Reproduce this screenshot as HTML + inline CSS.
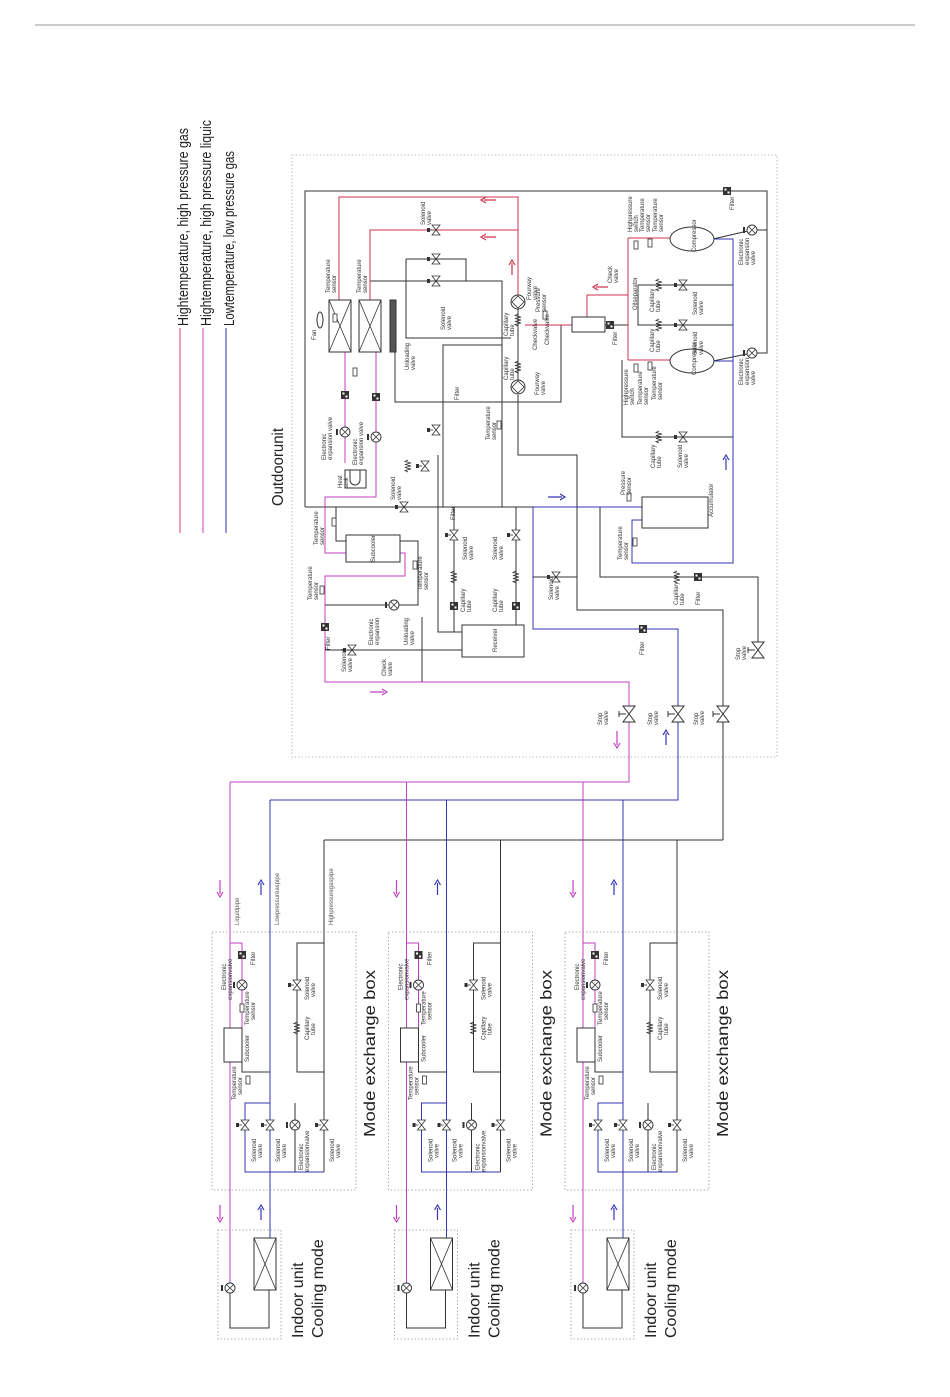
<!DOCTYPE html>
<html><head><meta charset="utf-8"><style>
html,body{margin:0;padding:0;background:#fff;}
svg{display:block;font-family:"Liberation Sans",sans-serif;}
</style></head><body>
<svg width="950" height="1397" viewBox="0 0 950 1397" xmlns="http://www.w3.org/2000/svg">
<defs>
<g id="sv"><path d="M-4,-5 L4,-5 L-4,5 L4,5 Z" fill="#fff" stroke="#333" stroke-width="0.8"/><line x1="-7" y1="0" x2="-3" y2="0" stroke="#333" stroke-width="0.8"/><rect x="-9" y="-2" width="3" height="4" fill="#333"/></g>
<g id="ev"><circle r="5" fill="#fff" stroke="#333" stroke-width="0.9"/><path d="M-3.5,-3.5 L3.5,3.5 M-3.5,3.5 L3.5,-3.5" stroke="#333" stroke-width="0.8"/><rect x="-9" y="-3" width="2" height="6" fill="#333"/></g>
<g id="fl"><rect x="-4" y="-4" width="8" height="8" fill="#333"/><rect x="-2.5" y="-2.5" width="2" height="2" fill="#fff"/><rect x="0.5" y="0.5" width="2" height="2" fill="#fff"/></g>
<g id="cap"><path d="M0,-6 l-3,1.5 l6,1.5 l-6,1.5 l6,1.5 l-6,1.5 l6,1.5 l-6,1.5 l3,1.5" fill="none" stroke="#333" stroke-width="0.8"/></g>
<g id="ts"><rect x="-2" y="-4" width="4" height="8" fill="#fff" stroke="#333" stroke-width="0.8"/></g>
<g id="stop"><path d="M-6,-8 L6,-8 L-6,8 L6,8 Z" fill="#fff" stroke="#333" stroke-width="1"/><line x1="-10" y1="0" x2="-3" y2="0" stroke="#333"/><line x1="-10" y1="-3" x2="-10" y2="3" stroke="#333"/></g>
<g id="fw"><circle r="7" fill="#fff" stroke="#333" stroke-width="1"/><path d="M0,-6 L6,0 L0,6 L-6,0 Z" fill="none" stroke="#333" stroke-width="0.8"/></g>
<g id="hx"><rect x="0" y="0" width="22" height="52" fill="#fff" stroke="#333" stroke-width="1"/><path d="M0,0 L22,52 M22,0 L0,52" stroke="#333" stroke-width="0.8"/></g>
</defs>

<line x1="35" y1="25" x2="915" y2="25" stroke="#999" stroke-width="1"/>

<!-- legend -->
<g font-size="15" fill="#222">
<text transform="translate(188,326) rotate(-90)" textLength="198" lengthAdjust="spacingAndGlyphs">Hightemperature, high pressure gas</text>
<text transform="translate(211,326) rotate(-90)" textLength="206" lengthAdjust="spacingAndGlyphs">Hightemperature, high pressure liquic</text>
<text transform="translate(234,326) rotate(-90)" textLength="175" lengthAdjust="spacingAndGlyphs">Lowtemperature, low pressure gas</text>
<text transform="translate(283,506) rotate(-90)" font-size="16" textLength="78" lengthAdjust="spacingAndGlyphs">Outdoorunit</text>
</g>
<line x1="180" y1="328" x2="180" y2="533" stroke="#e04060" stroke-width="1"/>
<line x1="203" y1="328" x2="203" y2="533" stroke="#c040c0" stroke-width="1"/>
<line x1="226" y1="328" x2="226" y2="533" stroke="#3030b0" stroke-width="1"/>

<!-- outdoor box -->
<rect x="292" y="155" width="485" height="602" fill="none" stroke="#aaa" stroke-width="0.8" stroke-dasharray="1.5,2"/>

<g fill="none" stroke="#333" stroke-width="1">
<path d="M305,507 L305,191 L767,191 L767,353 L752,353"/>
<path d="M767,230 L752,230"/>
<path d="M752,230 L713,239 M752,353 L713,361"/>
<path d="M370,281 L502,281 L502,507"/>
<path d="M406,259 L466,259 L466,281 M406,259 L406,338 L511,338"/>
<path d="M395,352 L395,402 L561,402 L561,325"/>
<path d="M443,507 L443,345 L502,345"/>
<path d="M518,395 L518,455 L577,455 L577,610 L723,610 L723,840"/>
<path d="M518,309 L518,380"/>
<path d="M605,325 L628,325"/>
<path d="M638,285 L733,285 M638,285 L638,325 L733,325"/>
<path d="M622,360 L622,437 L733,437"/>
<path d="M305,507 L533,507"/>
<path d="M600,507 L600,577 L758,577 L758,650"/>
<path d="M533,577 L577,577"/>
<path d="M336,507 L336,541 L418,541 L418,605 L325,605"/>
<path d="M325,650 L462,650"/>
<path d="M422,617 L422,682"/>
<path d="M438,455 L438,632 L462,632"/>
<path d="M454,507 L454,632"/>
<path d="M516,507 L516,625"/>
<rect x="345" y="470" width="21" height="18" fill="#fff"/>
<path d="M350,470 L350,480 A5,5 0 0 0 360,480 L360,470"/>
</g>
<!-- red -->
<g fill="none" stroke="#d03050" stroke-width="1">
<path d="M339,300 L339,197 L518,197 L518,295"/>
<path d="M370,300 L370,230 L518,230"/>
<path d="M525,325 L572,325"/>
<path d="M587,317 L587,295 L628,295"/>
<path d="M628,238 L628,360 M628,238 L670,238 M628,360 L670,360"/>
</g>
<!-- magenta -->
<g fill="none" stroke="#c040c0" stroke-width="1">
<path d="M345,352 L345,463 M376,352 L376,497 L325,497 L325,553 L405,553 L405,576 L325,576 L325,682 L629,682 L629,782 L230,782"/>
</g>
<!-- blue -->
<g fill="none" stroke="#3535b5" stroke-width="1">
<path d="M533,507 L642,507"/>
<path d="M533,507 L533,629 L678,629 L678,800 L270,800"/>
<path d="M713,239 L733,239 L733,563 L632,563 L632,520 L642,520 M713,361 L733,361"/>
</g>
<path d="M723,840 L324,840" stroke="#333" fill="none"/>

<!-- components outdoor -->
<use href="#hx" x="329" y="300"/><use href="#hx" x="359" y="300"/>
<rect x="390" y="300" width="6" height="52" fill="#555" stroke="#333"/>
<ellipse cx="320" cy="320" rx="3" ry="8" fill="#fff" stroke="#333"/>
<use href="#fw" x="518" y="302"/><use href="#fw" x="518" y="387"/>
<use href="#cap" x="518" y="320"/><use href="#cap" x="518" y="367"/>
<rect x="572" y="317" width="33" height="15" fill="#fff" stroke="#333"/>
<ellipse cx="692" cy="239" rx="22" ry="12" fill="#fff" stroke="#333"/>
<ellipse cx="692" cy="361" rx="22" ry="12" fill="#fff" stroke="#333"/>
<rect x="642" y="497" width="66" height="31" fill="#fff" stroke="#333"/>
<rect x="462" y="625" width="62" height="32" fill="#fff" stroke="#333"/>
<rect x="346" y="535" width="54" height="27" fill="#fff" stroke="#333"/>
<use href="#fl" x="727" y="191"/><use href="#fl" x="345" y="395"/><use href="#fl" x="376" y="397"/>
<use href="#fl" x="610" y="325"/><use href="#fl" x="454" y="606"/><use href="#fl" x="516" y="606"/>
<use href="#fl" x="643" y="629"/><use href="#fl" x="698" y="577"/><use href="#fl" x="325" y="627"/>
<use href="#ev" x="752" y="230"/><use href="#ev" x="752" y="353"/><use href="#ev" x="345" y="432"/><use href="#ev" x="376" y="437"/><use href="#ev" x="394" y="605"/>
<use href="#sv" x="436" y="230"/><use href="#sv" x="436" y="259"/><use href="#sv" x="436" y="281"/><use href="#sv" x="436" y="430"/>
<use href="#sv" x="404" y="507"/><use href="#sv" x="425" y="466"/><use href="#sv" x="683" y="285"/><use href="#sv" x="683" y="325"/><use href="#sv" x="683" y="437"/>
<use href="#sv" x="454" y="535"/><use href="#sv" x="516" y="535"/><use href="#sv" x="556" y="577"/><use href="#sv" x="352" y="650"/>
<use href="#cap" x="659" y="285"/><use href="#cap" x="659" y="325"/><use href="#cap" x="659" y="437"/><use href="#cap" x="454" y="577"/><use href="#cap" x="516" y="577"/><use href="#cap" x="677" y="577"/><use href="#cap" x="408" y="466"/>
<use href="#ts" x="335" y="318"/><use href="#ts" x="355" y="372"/><use href="#ts" x="636" y="245"/><use href="#ts" x="650" y="243"/><use href="#ts" x="636" y="368"/><use href="#ts" x="650" y="366"/><use href="#ts" x="334" y="522"/><use href="#ts" x="415" y="565"/><use href="#ts" x="322" y="590"/><use href="#ts" x="629" y="497"/><use href="#ts" x="635" y="542"/><use href="#ts" x="545" y="315"/><use href="#ts" x="499" y="425"/>
<use href="#stop" x="629" y="714"/><use href="#stop" x="678" y="714"/><use href="#stop" x="723" y="714"/><use href="#stop" x="758" y="650"/>

<!-- outdoor arrows -->
<g fill="none" stroke-width="1.2">
<path d="M496,200 L484,200 M486,197 L481,200 L486,203" stroke="#d03050"/>
<path d="M496,237 L484,237 M486,234 L481,237 L486,240" stroke="#d03050"/>
<path d="M512,275 L512,263 M509,265 L512,260 L515,265" stroke="#d03050"/>
<path d="M608,287 L596,287 M598,284 L593,287 L598,290" stroke="#d03050"/>
<path d="M548,497 L562,497 M560,494 L565,497 L560,500" stroke="#3535b5"/>
<path d="M726,470 L726,458 M723,460 L726,455 L729,460" stroke="#3535b5"/>
<path d="M370,692 L384,692 M382,689 L387,692 L382,695" stroke="#c040c0"/>
<path d="M617,731 L617,745 M614,743 L617,748 L620,743" stroke="#c040c0"/>
<path d="M666,745 L666,733 M663,735 L666,730 L669,735" stroke="#3535b5"/>
</g>

<!-- outdoor labels (small) -->
<g font-size="6" fill="#333">
<text transform="translate(637,310) rotate(-90)">Oilseparator</text>
<text transform="translate(713,517) rotate(-90)">Accumulator</text>
<text transform="translate(497,652) rotate(-90)">Receiver</text>
<text transform="translate(375,562) rotate(-90)">Subcooler</text>
<text transform="translate(696,252) rotate(-90)">Compressor</text>
<text transform="translate(696,375) rotate(-90)">Compressor</text>
<text transform="translate(531,300) rotate(-90)">Fourway</text><text transform="translate(537,300) rotate(-90)">valve</text>
<text transform="translate(539,395) rotate(-90)">Fourway</text><text transform="translate(545,395) rotate(-90)">valve</text>
<text transform="translate(508,336) rotate(-90)">Capillary</text><text transform="translate(514,336) rotate(-90)">tube</text>
<text transform="translate(508,380) rotate(-90)">Capillary</text><text transform="translate(514,380) rotate(-90)">tube</text>
<text transform="translate(316,340) rotate(-90)">Fan</text>
<text transform="translate(330,293) rotate(-90)">Temperature</text><text transform="translate(336,293) rotate(-90)">sensor</text>
<text transform="translate(361,293) rotate(-90)">Temperature</text><text transform="translate(367,293) rotate(-90)">sensor</text>
<text transform="translate(425,225) rotate(-90)">Solenoid</text><text transform="translate(431,225) rotate(-90)">valve</text>
<text transform="translate(445,330) rotate(-90)">Solenoid</text><text transform="translate(451,330) rotate(-90)">valve</text>
<text transform="translate(409,370) rotate(-90)">Unloading</text><text transform="translate(415,370) rotate(-90)">valve</text>
<text transform="translate(326,460) rotate(-90)">Electronic</text><text transform="translate(332,460) rotate(-90)">expansion valve</text>
<text transform="translate(357,465) rotate(-90)">Electronic</text><text transform="translate(363,465) rotate(-90)">expansion valve</text>
<text transform="translate(342,488) rotate(-90)">Heat</text><text transform="translate(348,488) rotate(-90)">sink</text>
<text transform="translate(395,500) rotate(-90)">Solenoid</text><text transform="translate(401,500) rotate(-90)">valve</text>
<text transform="translate(455,520) rotate(-90)">Filter</text>
<text transform="translate(467,560) rotate(-90)">Solenoid</text><text transform="translate(473,560) rotate(-90)">valve</text>
<text transform="translate(465,612) rotate(-90)">Capillary</text><text transform="translate(471,612) rotate(-90)">tube</text>
<text transform="translate(497,560) rotate(-90)">Solenoid</text><text transform="translate(503,560) rotate(-90)">valve</text>
<text transform="translate(497,612) rotate(-90)">Capillary</text><text transform="translate(503,612) rotate(-90)">tube</text>
<text transform="translate(553,600) rotate(-90)">Solenoid</text><text transform="translate(559,600) rotate(-90)">valve</text>
<text transform="translate(330,650) rotate(-90)">Filter</text>
<text transform="translate(346,672) rotate(-90)">Solenoid</text><text transform="translate(352,672) rotate(-90)">valve</text>
<text transform="translate(386,676) rotate(-90)">Check</text><text transform="translate(392,676) rotate(-90)">valve</text>
<text transform="translate(373,645) rotate(-90)">Electronic</text><text transform="translate(379,645) rotate(-90)">expansion</text>
<text transform="translate(408,645) rotate(-90)">Unloading</text><text transform="translate(414,645) rotate(-90)">valve</text>
<text transform="translate(312,600) rotate(-90)">Temperature</text><text transform="translate(318,600) rotate(-90)">sensor</text>
<text transform="translate(422,590) rotate(-90)">Temperature</text><text transform="translate(428,590) rotate(-90)">sensor</text>
<text transform="translate(318,545) rotate(-90)">Temperature</text><text transform="translate(324,545) rotate(-90)">sensor</text>
<text transform="translate(622,560) rotate(-90)">Temperature</text><text transform="translate(628,560) rotate(-90)">sensor</text>
<text transform="translate(625,495) rotate(-90)">Pressure</text><text transform="translate(631,495) rotate(-90)">sensor</text>
<text transform="translate(678,605) rotate(-90)">Capillary</text><text transform="translate(684,605) rotate(-90)">tube</text>
<text transform="translate(700,605) rotate(-90)">Filter</text>
<text transform="translate(644,655) rotate(-90)">Filter</text>
<text transform="translate(740,660) rotate(-90)">Stop</text><text transform="translate(746,660) rotate(-90)">valve</text>
<text transform="translate(602,725) rotate(-90)">Stop</text><text transform="translate(608,725) rotate(-90)">valve</text>
<text transform="translate(652,725) rotate(-90)">Stop</text><text transform="translate(658,725) rotate(-90)">valve</text>
<text transform="translate(698,725) rotate(-90)">Stop</text><text transform="translate(704,725) rotate(-90)">valve</text>
<text transform="translate(612,283) rotate(-90)">Check</text><text transform="translate(618,283) rotate(-90)">valve</text>
<text transform="translate(632,232) rotate(-90)">Highpressure</text><text transform="translate(638,232) rotate(-90)">switch</text>
<text transform="translate(644,232) rotate(-90)">Temperature</text><text transform="translate(650,232) rotate(-90)">sensor</text>
<text transform="translate(657,232) rotate(-90)">Temperature</text><text transform="translate(663,232) rotate(-90)">sensor</text>
<text transform="translate(628,405) rotate(-90)">Highpressure</text><text transform="translate(634,405) rotate(-90)">switch</text>
<text transform="translate(642,405) rotate(-90)">Temperature</text><text transform="translate(648,405) rotate(-90)">sensor</text>
<text transform="translate(656,400) rotate(-90)">Temperature</text><text transform="translate(662,400) rotate(-90)">sensor</text>
<text transform="translate(654,312) rotate(-90)">Capillary</text><text transform="translate(660,312) rotate(-90)">tube</text>
<text transform="translate(654,352) rotate(-90)">Capillary</text><text transform="translate(660,352) rotate(-90)">tube</text>
<text transform="translate(697,315) rotate(-90)">Solenoid</text><text transform="translate(703,315) rotate(-90)">valve</text>
<text transform="translate(697,355) rotate(-90)">Solenoid</text><text transform="translate(703,355) rotate(-90)">valve</text>
<text transform="translate(655,468) rotate(-90)">Capillary</text><text transform="translate(661,468) rotate(-90)">tube</text>
<text transform="translate(682,468) rotate(-90)">Solenoid</text><text transform="translate(688,468) rotate(-90)">valve</text>
<text transform="translate(743,265) rotate(-90)">Electronic</text><text transform="translate(749,265) rotate(-90)">expansion</text><text transform="translate(755,265) rotate(-90)">valve</text>
<text transform="translate(743,385) rotate(-90)">Electronic</text><text transform="translate(749,385) rotate(-90)">expansion</text><text transform="translate(755,385) rotate(-90)">valve</text>
<text transform="translate(734,210) rotate(-90)">Filter</text>
<text transform="translate(617,345) rotate(-90)">Filter</text>
<text transform="translate(490,440) rotate(-90)">Temperature</text><text transform="translate(496,440) rotate(-90)">sensor</text>
<text transform="translate(459,400) rotate(-90)">Filter</text>
<text transform="translate(549,345) rotate(-90)">Checkvalve</text>
<text transform="translate(537,350) rotate(-90)">Checkvalve</text>
<text transform="translate(540,312) rotate(-90)">Pressure</text><text transform="translate(546,312) rotate(-90)">sensor</text>
</g>

<!-- pipe labels -->
<g font-size="6" fill="#555">
<text transform="translate(239,925) rotate(-90)">Liquidpipe</text>
<text transform="translate(279,925) rotate(-90)">Lowpressureaspipe</text>
<text transform="translate(333,925) rotate(-90)">Highpressuregaspipe</text>
</g>

<!-- modules -->
<g id="mod">
<g fill="none" stroke-width="1">
<path d="M230,782 L230,1288" stroke="#c040c0"/>
<path d="M230,943 L242,943 L242,1028" stroke="#c040c0"/>
<path d="M242,1062 L242,1072 L270,1072" stroke="#333"/>
<path d="M270,800 L270,1238" stroke="#3535b5"/>
<path d="M270,1103 L245,1103 L245,1172 L324,1172" stroke="#3535b5"/>
<path d="M324,840 L324,1172" stroke="#333"/>
<path d="M324,943 L297,943 L297,1072 L324,1072" stroke="#333"/>
<path d="M295,1103 L295,1172" stroke="#333"/>
<path d="M230,1288 L230,1328 L269,1328 L269,1290" stroke="#333"/>
</g>
<rect x="212" y="932" width="144" height="258" fill="none" stroke="#999" stroke-width="0.8" stroke-dasharray="1.5,2"/>
<rect x="218" y="1230" width="63" height="109" fill="none" stroke="#999" stroke-width="0.8" stroke-dasharray="1.5,2"/>
<rect x="224" y="1028" width="18" height="34" fill="#fff" stroke="#333"/>
<use href="#fl" x="242" y="955"/><use href="#ev" x="242" y="985"/><use href="#ts" x="242" y="1008"/><use href="#ts" x="248" y="1080"/>
<use href="#sv" x="245" y="1125"/><use href="#sv" x="270" y="1125"/><use href="#ev" x="295" y="1125"/><use href="#sv" x="324" y="1125"/>
<use href="#sv" x="297" y="985"/><use href="#cap" x="297" y="1028"/>
<use href="#hx" x="254" y="1238"/>
<use href="#ev" x="230" y="1288"/>
<g fill="none" stroke-width="1.2">
<path d="M220,880 L220,894 M217,892 L220,897 L223,892" stroke="#c040c0"/>
<path d="M261,895 L261,883 M258,885 L261,880 L264,885" stroke="#3535b5"/>
<path d="M220,1205 L220,1219 M217,1217 L220,1222 L223,1217" stroke="#c040c0"/>
<path d="M261,1220 L261,1208 M258,1210 L261,1205 L264,1210" stroke="#3535b5"/>
</g>
<g font-size="6" fill="#333">
<text transform="translate(226,990) rotate(-90)">Electronic</text><text transform="translate(232,1000) rotate(-90)">expansionvalve</text>
<text transform="translate(255,965) rotate(-90)">Filter</text>
<text transform="translate(249,1025) rotate(-90)">Temperature</text><text transform="translate(255,1020) rotate(-90)">sensor</text>
<text transform="translate(249,1062) rotate(-90)">Subcooler</text>
<text transform="translate(236,1100) rotate(-90)">Temperature</text><text transform="translate(242,1095) rotate(-90)">sensor</text>
<text transform="translate(309,1040) rotate(-90)">Capillary</text><text transform="translate(315,1035) rotate(-90)">tube</text>
<text transform="translate(309,1000) rotate(-90)">Solenoid</text><text transform="translate(315,997) rotate(-90)">valve</text>
<text transform="translate(256,1162) rotate(-90)">Solenoid</text><text transform="translate(262,1158) rotate(-90)">valve</text>
<text transform="translate(280,1162) rotate(-90)">Solenoid</text><text transform="translate(286,1158) rotate(-90)">valve</text>
<text transform="translate(303,1170) rotate(-90)">Electronic</text><text transform="translate(309,1172) rotate(-90)">expansionvalve</text>
<text transform="translate(334,1162) rotate(-90)">Solenoid</text><text transform="translate(340,1158) rotate(-90)">valve</text>
</g>
<g font-size="16" fill="#222">
<text transform="translate(375,1137) rotate(-90)" textLength="167" lengthAdjust="spacingAndGlyphs">Mode exchange box</text>
<text transform="translate(303,1338) rotate(-90)">Indoor unit</text>
<text transform="translate(323,1338) rotate(-90)">Cooling mode</text>
</g>
</g>
<use href="#mod" x="176.5" y="0"/>
<use href="#mod" x="353" y="0"/>
</svg>
</body></html>
